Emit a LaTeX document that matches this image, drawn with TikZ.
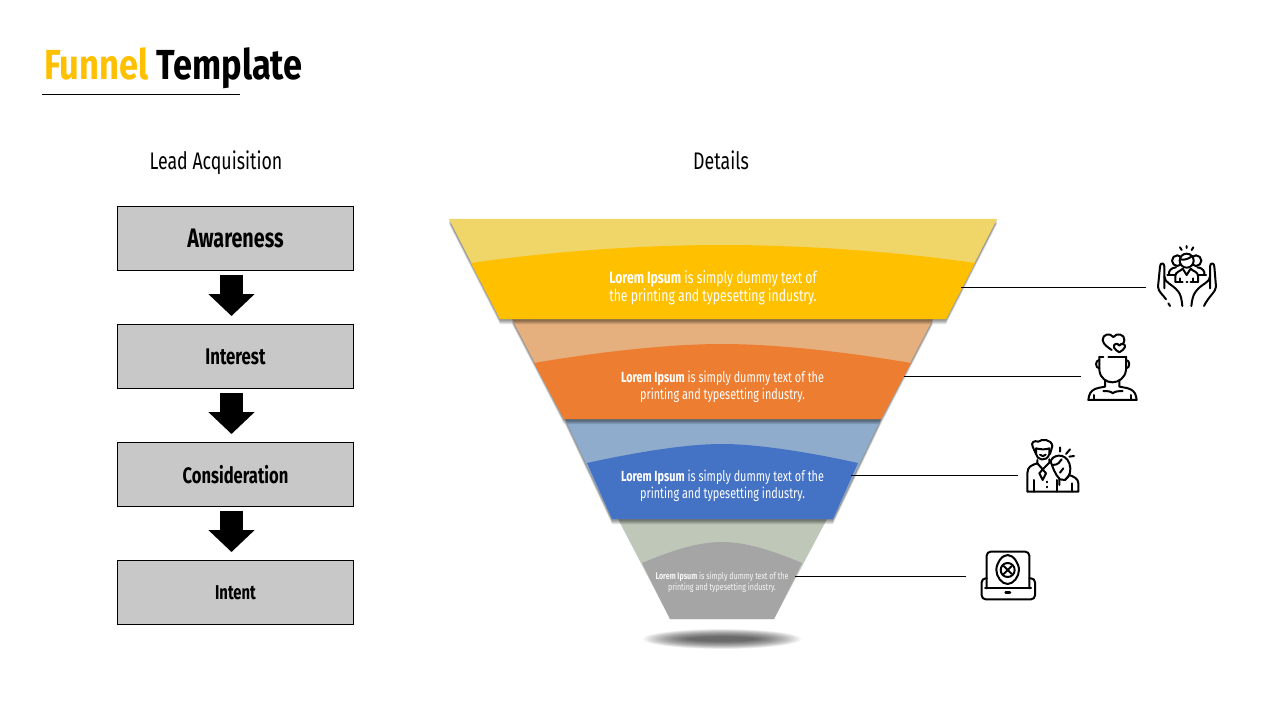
\documentclass[tikz,border=0pt]{standalone}
\usepackage{fontspec}
\setmainfont[FakeStretch=0.74]{Fira Sans}
\newfontfamily\titlefont[FakeStretch=0.82]{Fira Sans}
\usetikzlibrary{arrows.meta,positioning}
\definecolor{funnelyellow}{HTML}{FFC000}
\definecolor{paleyellow}{HTML}{F0D669}
\definecolor{funnelorange}{HTML}{ED7D31}
\definecolor{paleorange}{HTML}{E5B07D}
\definecolor{funnelblue}{HTML}{4472C4}
\definecolor{paleblue}{HTML}{8FACCD}
\definecolor{funnelgray}{HTML}{A5A5A5}
\definecolor{palegray}{HTML}{BEC7B8}
\definecolor{boxgray}{HTML}{C8C8C8}
\tikzset{
  stagebox/.style={draw=black,line width=0.7pt,fill=boxgray,minimum width=177pt,minimum height=48pt,inner sep=0pt,font=\bfseries},
  blockarrow/.style={line width=17.25pt,-{Triangle[width=33.75pt,length=16.5pt]},shorten <=3pt,shorten >=6pt},
  heading/.style={anchor=base,font=\fontsize{18}{22}\selectfont},
  bandtext/.style={text=white,align=center,font=\fontsize{11}{13}\selectfont,inner sep=0pt},
  leader/.style={line width=0.7pt},
  icon/.style={line width=1.5pt,line cap=round,line join=round}
}
\begin{document}
\begin{tikzpicture}[x=0.75pt,y=-0.75pt]
  \useasboundingbox (0,0) rectangle (1280,720);
  \node[anchor=base west,inner sep=0pt,font=\fontsize{31.5}{36}\titlefont\bfseries] (title) at (44,80) {\textcolor{funnelyellow}{Funnel} Template};
  \coordinate (ruleA) at (42,94);
  \coordinate (ruleB) at (240,94);
  \draw[leader] (ruleA) -- (ruleB);
  \node[heading] (leadhead) at (216,170) {Lead Acquisition};
  \node[heading] (detailhead) at (721,170) {Details};
  \node[stagebox] (awareness) at (235.5,238.5) {\fontsize{20}{22}\selectfont Awareness};
  \node[stagebox] (interest) at (235.5,356.5) {\fontsize{17}{20}\selectfont Interest};
  \node[stagebox] (consideration) at (235.5,474.5) {\fontsize{16.8}{20}\selectfont Consideration};
  \node[stagebox] (intent) at (235.5,592.5) {\fontsize{15}{18}\selectfont Intent};
  \draw[blockarrow] ([xshift=-3pt]awareness.south) -- ([xshift=-3pt]interest.north);
  \draw[blockarrow] ([xshift=-3pt]interest.south) -- ([xshift=-3pt]consideration.north);
  \draw[blockarrow] ([xshift=-3pt]consideration.south) -- ([xshift=-3pt]intent.north);
  \foreach \ytop/\tl/\tr/\bl/\br/\cl/\cr/\cy/\peak/\ca/\cb/\cc/\light/\dark/\sh in {
    519/618/827/670/774/642/802/563/542/33/14/22/palegray/funnelgray/0,
    419/565/881/612/833/587/858/463/444/50/11/35/paleblue/funnelblue/0.11,
    319/512/933/564/881/534/911/363/344/70/12/50/paleorange/funnelorange/0.11,
    219/449/997/500/946/471/975/263/245/90/13/70/paleyellow/funnelyellow/0.11} {
    \foreach \s in {1,2,3,4,5} {
      \fill[black,opacity=\sh,shift={(0,\s)}] (\tl,\ytop) -- (\tr,\ytop) -- (\br,\ytop+100) -- (\bl,\ytop+100) -- cycle;
    }
    \fill[\light] (\tl,\ytop) -- (\tr,\ytop) -- (\br,\ytop+100) -- (\bl,\ytop+100) -- cycle;
    \fill[\dark] (\bl,\ytop+100) -- (\cl,\cy) .. controls (\cl+\ca,\cy-\cb) and (722-\cc,\peak) .. (722,\peak) .. controls (722+\cc,\peak) and (\cr-\ca,\cy-\cb) .. (\cr,\cy) -- (\br,\ytop+100) -- cycle;
  }
  \foreach \s in {0,...,19} {
    \fill[black,opacity=0.045] (722,639) ellipse (79-\s*2.4 and 10-\s*0.4);
  }
  \node[bandtext,align=left,font=\fontsize{12.4}{13.5}\selectfont] (textA) at (713,287.5) {\textbf{Lorem Ipsum} is simply dummy text of\\the printing and typesetting industry.};
  \node[bandtext] (textB) at (722.5,387) {\textbf{Lorem Ipsum} is simply dummy text of the\\printing and typesetting industry.};
  \node[bandtext] (textC) at (722.5,486) {\textbf{Lorem Ipsum} is simply dummy text of the\\printing and typesetting industry.};
  \node[bandtext,text=white!90!funnelgray,font=\fontsize{7.2}{8.2}\selectfont] (textD) at (722,582.5) {\textbf{Lorem Ipsum} is simply dummy text of the\\printing and typesetting industry.};
  \foreach \name/\xa/\xb/\y in {A/961/1146/287, B/904/1081/376, C/851/1018/475, D/795/966/576} {
    \coordinate (edge\name) at (\xa,\y);
    \coordinate (icon\name) at (\xb,\y);
    \draw[leader] (edge\name) -- (icon\name);
  }
  \begin{scope}[shift={(1130,230)},scale=0.3333,icon]
    \draw (170,48) -- (170,54) (150,52) -- (155,60) (190,52) -- (185,60);
    \draw (142,92) circle (16) (198,92) circle (16);
    \draw (118,135) .. controls (112,125) and (125,112) .. (138,112) (222,135) .. controls (228,125) and (215,112) .. (202,112);
    \draw (112,135) -- (136,135) (204,135) -- (228,135);
    \draw[fill=white] (170,92) circle (21);
    \draw (150,88) .. controls (165,92) and (178,85) .. (186,78);
    \draw[fill=white] (136,155) -- (136,138) .. controls (136,125) and (150,125) .. (158,116) -- (170,135) -- (182,116) .. controls (190,125) and (204,125) .. (204,138) -- (204,155);
    \draw (136,155) -- (158,155) (182,155) -- (204,155) (170,155) -- (172,155) (150,145) -- (150,155) (190,145) -- (190,155);
    \draw (103,175) -- (103,110) .. controls (103,97) and (90,97) .. (90,110) -- (84,170) .. controls (84,185) and (100,195) .. (108,208) (115,220) -- (120,228);
    \draw (103,140) .. controls (105,160) and (125,160) .. (145,185) .. controls (153,195) and (155,210) .. (157,228);
    \draw (240,175) -- (240,110) .. controls (240,97) and (253,97) .. (253,110) -- (258,170) .. controls (258,185) and (235,200) .. (222,228);
    \draw (240,140) .. controls (238,160) and (215,160) .. (197,185) .. controls (189,195) and (186,210) .. (184,228);
  \end{scope}
  \begin{scope}[shift={(1070,325)},scale=0.3333,icon]
    \draw (125,75) .. controls (115,68) and (99,58) .. (98,45) .. controls (97,28) and (120,22) .. (130,36) .. controls (140,22) and (165,28) .. (163,45) .. controls (163,50) and (161,54) .. (158,57);
    \draw (148,62) .. controls (143,52) and (128,56) .. (132,68) .. controls (135,74) and (142,78) .. (148,82) .. controls (155,78) and (163,72) .. (165,66) .. controls (167,56) and (153,53) .. (148,62) -- cycle;
    \draw (88,95) -- (100,95) (115,95) -- (168,95);
    \draw (88,95) -- (88,135) .. controls (90,160) and (110,172) .. (127,172) .. controls (145,172) and (165,160) .. (168,135) -- (168,95);
    \draw (88,105) .. controls (75,105) and (75,130) .. (88,130) (168,105) .. controls (181,105) and (181,130) .. (168,130);
    \draw (105,165) -- (105,185) .. controls (80,190) and (58,190) .. (55,225) -- (200,225) .. controls (197,190) and (175,190) .. (148,185) -- (148,165);
    \draw (100,198) .. controls (115,198) and (125,200) .. (128,205) .. controls (132,200) and (145,198) .. (158,198);
    \draw (72,225) -- (72,210) (183,225) -- (183,210);
  \end{scope}
  \begin{scope}[shift={(1010,430)},scale=0.3333,icon]
    \draw (78,72) -- (68,50) .. controls (62,38) and (72,30) .. (85,35) .. controls (95,25) and (125,28) .. (127,48) -- (120,72);
    \draw (78,55) -- (78,72) .. controls (80,90) and (110,98) .. (118,72) -- (118,55) .. controls (105,60) and (90,58) .. (78,55);
    \draw (90,74) .. controls (95,80) and (102,80) .. (107,74);
    \draw (82,90) -- (82,100) .. controls (65,105) and (52,110) .. (52,130) -- (52,185) -- (205,185) -- (205,160) .. controls (205,145) and (190,140) .. (178,135);
    \draw (82,100) -- (98,118) -- (118,98) -- (118,88) (98,118) -- (88,130) -- (98,150) -- (108,130) -- (98,118);
    \draw (72,150) -- (72,185) (140,150) -- (140,185) (185,160) -- (185,185) (110,155) -- (110,157) (110,170) -- (110,172);
    \draw[fill=white] (122,95) .. controls (125,75) and (165,65) .. (178,100) .. controls (185,120) and (180,140) .. (165,150) -- (150,148) .. controls (135,135) and (128,110) .. (122,95) -- cycle;
    \draw (128,105) .. controls (145,105) and (150,95) .. (155,88) (160,115) -- (150,128) (148,148) -- (148,165) (165,150) -- (178,135);
    \draw (150,52) -- (150,65) (168,72) -- (180,58) (178,80) -- (192,78);
  \end{scope}
  \begin{scope}[shift={(965,540)},scale=0.3333,icon]
    \draw[rounded corners=3pt] (65,145) -- (65,35) -- (193,35) -- (193,145);
    \draw (128,45) .. controls (145,45) and (162,70) .. (162,90) .. controls (162,110) and (145,132) .. (128,132) .. controls (110,132) and (94,110) .. (94,90) .. controls (94,70) and (110,45) .. (128,45) -- cycle;
    \draw (128,90) circle (21);
    \draw (116,78) -- (140,102) (140,78) -- (116,102);
    \draw[rounded corners=3pt] (65,115) -- (50,115) -- (50,178) -- (210,178) -- (210,115) -- (193,115);
    \draw (60,145) -- (198,145);
    \draw[line width=2pt] (122,158) -- (135,158);
  \end{scope}
\end{tikzpicture}
\end{document}
